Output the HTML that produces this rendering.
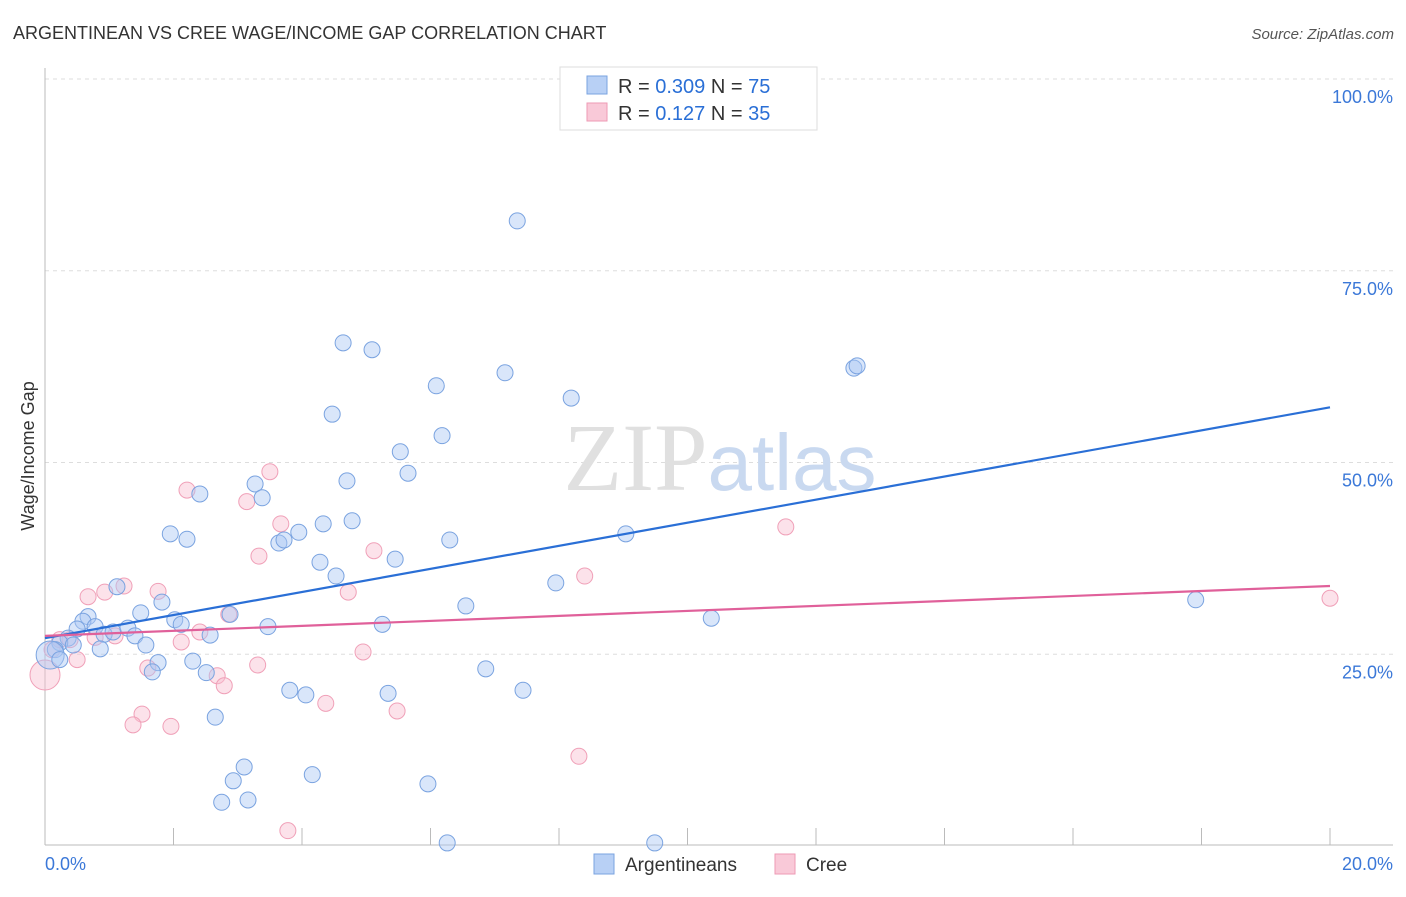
<!DOCTYPE html>
<html><head><meta charset="utf-8"><style>
body{margin:0;background:#fff;font-family:"Liberation Sans",sans-serif;}
svg text{font-family:"Liberation Sans",sans-serif;}
</style></head><body>
<svg id="chart" width="1406" height="892" viewBox="0 0 1406 892" xmlns="http://www.w3.org/2000/svg">
<text x="13" y="39" font-size="18" fill="#333">ARGENTINEAN VS CREE WAGE/INCOME GAP CORRELATION CHART</text>
<text x="1394" y="39" font-size="15" fill="#555" font-style="italic" text-anchor="end">Source: ZipAtlas.com</text>
<g id="grid"></g>
<text x="720" y="490" font-size="96" text-anchor="middle"><tspan fill="#e0e0e0" font-family="Liberation Serif">ZIP</tspan><tspan fill="#c9d9f0" font-size="80">atlas</tspan></text>
<g id="pts"></g>
<g id="trends"></g>
<text transform="translate(34,456) rotate(-90)" font-size="18" fill="#333" text-anchor="middle">Wage/Income Gap</text>
<g>
<rect x="560" y="67" width="257" height="63" fill="#fff" stroke="#ddd"/>
<rect x="587" y="76" width="20" height="18" fill="#b8d0f5" stroke="#7aa3e0"/>
<text x="618" y="93" font-size="20" fill="#333">R = <tspan fill="#2a6fd6">0.309</tspan>   N = <tspan fill="#2a6fd6">75</tspan></text>
<rect x="587" y="103" width="20" height="18" fill="#f9c9d8" stroke="#ee9ab4"/>
<text x="618" y="120" font-size="20" fill="#333">R =  <tspan fill="#2a6fd6">0.127</tspan>   N = <tspan fill="#2a6fd6">35</tspan></text>
</g>
<g>
<rect x="594" y="854" width="20" height="20" fill="#b8d0f5" stroke="#7aa3e0"/>
<text x="625" y="871" font-size="19" fill="#333">Argentineans</text>
<rect x="775" y="854" width="20" height="20" fill="#f9c9d8" stroke="#ee9ab4"/>
<text x="806" y="871" font-size="19" fill="#333">Cree</text>
</g>
</svg>
<script>
const xTickLabels=["0.0%","20.0%"];
const yTicks=[25,50,75,100];
const yTickLabels=["25.0%","50.0%","75.0%","100.0%"];
const blueX=[7.35,4.64,5.09,6.09,7.16,8.19,4.47,6.18,5.53,5.65,4.70,3.27,3.38,2.41,1.95,2.21,3.64,3.72,3.95,4.33,4.78,6.30,5.45,4.28,4.53,9.04,7.95,12.59,12.64,1.12,1.82,1.49,0.67,6.55,2.88,2.02,2.12,2.57,3.47,5.25,10.37,17.91,0.59,0.78,0.50,0.92,1.06,1.29,1.40,1.57,0.86,0.36,0.23,0.16,0.08,0.23,0.44,1.76,1.67,2.30,2.51,6.86,3.81,4.06,5.34,7.44,2.65,3.10,2.93,4.16,5.96,2.75,3.16,6.26,9.49];
const blueY=[81.5,65.6,64.7,60.0,61.7,58.4,56.3,53.5,51.4,48.6,47.6,47.2,45.4,45.9,40.7,40.0,39.5,39.9,40.9,42.0,42.4,39.9,37.4,37.0,35.2,40.7,34.3,62.3,62.6,33.8,31.8,30.4,29.9,31.3,30.2,29.5,28.9,27.5,28.6,28.9,29.7,32.1,29.3,28.6,28.3,27.6,27.9,28.4,27.4,26.2,25.7,27.1,26.5,25.6,24.9,24.3,26.2,23.9,22.7,24.1,22.6,23.1,20.3,19.7,19.9,20.3,16.8,10.3,8.5,9.3,8.1,5.7,6.0,0.4,0.4];
const pinkX=[0,0.11,0.23,0.39,0.50,0.67,0.78,0.93,1.09,1.23,1.51,1.37,1.60,1.76,1.96,2.12,2.21,2.41,2.68,2.79,2.86,3.14,3.33,3.31,3.50,3.67,3.78,4.37,4.72,4.95,5.12,5.48,8.31,8.40,11.53,20.0];
const pinkY=[22.3,25.6,26.9,26.9,24.3,32.5,27.2,33.1,27.4,33.9,17.2,15.8,23.2,33.2,15.6,26.6,46.4,27.9,22.2,20.9,30.2,44.9,37.8,23.6,48.8,42.0,2.0,18.6,33.1,25.3,38.5,17.6,11.7,35.2,41.6,32.3];
const blueTrend=[27.1,57.2];
const pinkTrend=[27.4,33.9];
const NS="http://www.w3.org/2000/svg";
const X=v=>45+v/20*1285, Y=v=>846-v/100*767;
function mk(p,t,a){const e=document.createElementNS(NS,t);for(const k in a)e.setAttribute(k,a[k]);p.appendChild(e);return e;}
const grid=document.getElementById('grid');
const g=mk(grid,'g',{});
yTicks.forEach((t,i)=>{
 const l=mk(grid,'line',{x1:45,x2:1393,y1:Y(t),y2:Y(t),stroke:'#ddd','stroke-dasharray':'4,4'});
 
 
 const tx=mk(grid,'text',{x:1393,y:Y(t)+24,'font-size':18,fill:'#3b78d8','text-anchor':'end'});
 tx.textContent=yTickLabels[i];
 
 
});
const ax=mk(grid,'line',{x1:45,x2:45,y1:68,y2:845,stroke:'#bbb'});


const bx=mk(grid,'line',{x1:45,x2:1393,y1:845,y2:845,stroke:'#bbb'});


for(let i=0;i<=10;i++){
 const tk=mk(grid,'line',{x1:X(i*2),x2:X(i*2),y1:828,y2:845,stroke:'#bbb'});
 
 
}
[[0,'start'],[20,'end']].forEach((d,i)=>{
 const t=mk(grid,'text',{x:i?1393:45,y:870,'font-size':18,fill:'#3b78d8','text-anchor':d[1]});
 t.textContent=xTickLabels[i];
 
 
});
const pts=document.getElementById('pts');
pinkX.forEach((x,i)=>{
 const c=mk(pts,'circle',{cx:X(x),cy:Y(pinkY[i]),r:i==0?15:8,fill:'rgba(248,190,208,0.45)',stroke:'#f0a0b8','stroke-width':1});
 
 
});
blueX.forEach((x,i)=>{
 const c=mk(pts,'circle',{cx:X(x),cy:Y(blueY[i]),r:i==54?14:8,fill:'rgba(170,200,245,0.45)',stroke:'#7aa3e0','stroke-width':1});
 
 
});
const tr=document.getElementById('trends');
const bl=mk(tr,'line',{x1:X(0),x2:X(20),y1:Y(blueTrend[0]),y2:Y(blueTrend[1]),stroke:'#2a6fd6','stroke-width':2.2});


const pl=mk(tr,'line',{x1:X(0),x2:X(20),y1:Y(pinkTrend[0]),y2:Y(pinkTrend[1]),stroke:'#e0609a','stroke-width':2.2});


</script>
</body></html>
